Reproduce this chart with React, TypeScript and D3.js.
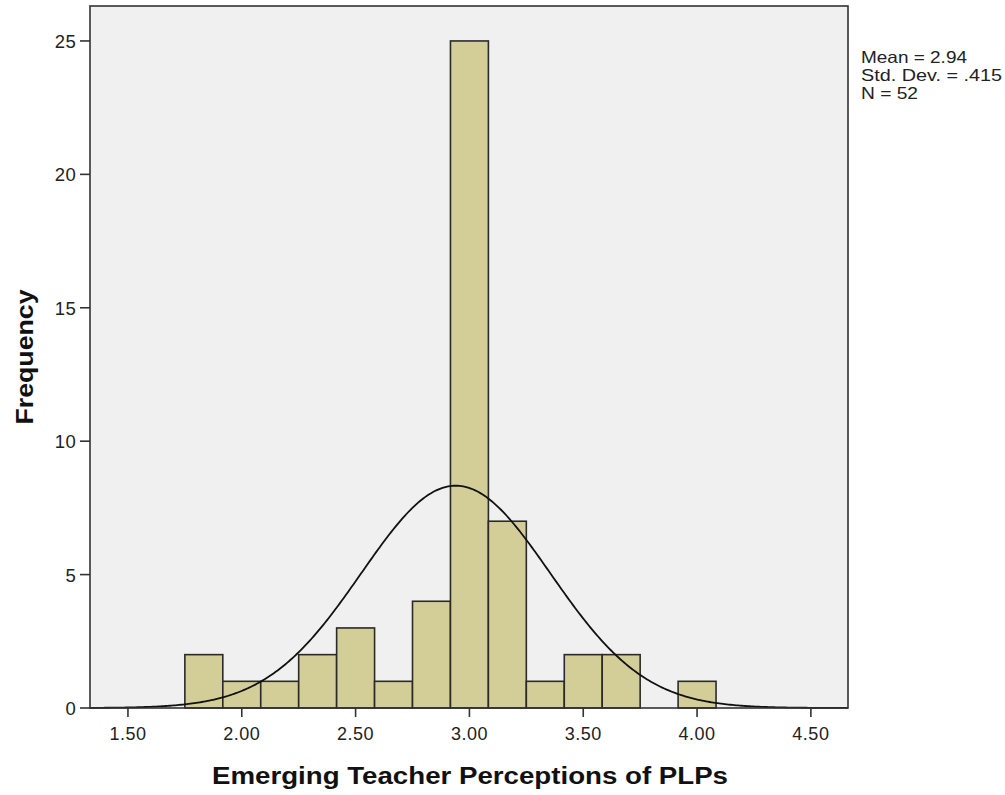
import React from "react";
import * as d3 from "d3";

const binStarts = [1.75, 1.9167, 2.0833, 2.25, 2.4167, 2.5833, 2.75, 2.9167, 3.0833, 3.25, 3.4167, 3.5833, 3.75, 3.9167];
const counts = [2, 1, 1, 2, 3, 1, 4, 25, 7, 1, 2, 2, 0, 1];
const binWidth = 1 / 6;
const xTicks = [1.5, 2.0, 2.5, 3.0, 3.5, 4.0, 4.5];
const yTicks = [0, 5, 10, 15, 20, 25];
const mean = 2.94;
const sd = 0.415;
const n = 52;
const statsLines = ["Mean = 2.94", "Std. Dev. = .415", "N = 52"];
const statsWidths = [106, 141, 57];

const W = 1005, H = 795;
const left = 90, right = 848, top = 6, bottom = 708;

export default function App() {
  const x = d3.scaleLinear().domain([1.3333, 4.663]).range([left, right]);
  const y = d3.scaleLinear().domain([0, 26.31]).range([bottom, top]);
  const pts: [number, number][] = [];
  const [d0, d1] = x.domain();
  for (let i = 0; i <= 400; i++) {
    const v = d0 + ((d1 - d0) * i) / 400;
    const dens = Math.exp(-0.5 * ((v - mean) / sd) ** 2) / (sd * Math.sqrt(2 * Math.PI));
    pts.push([x(v), y(dens * n * binWidth)]);
  }
  const line = d3.line();
  const font = "Arial, 'Liberation Sans', sans-serif";
  return (
    <svg width={W} height={H} style={{ position: "absolute", left: 0, top: 0, background: "#fff" }}>
      <rect x={left} y={top} width={right - left} height={bottom - top} fill="#F0F0F0" />
      {counts.map((c, i) =>
        c > 0 ? (
          <rect
            key={i}
            x={x(binStarts[i])}
            y={y(c)}
            width={x(binStarts[i] + binWidth) - x(binStarts[i])}
            height={y(0) - y(c)}
            fill="#D3CE97"
            stroke="#2a2a2a"
            strokeWidth={1.6}
          />
        ) : null
      )}
      <path d={line(pts) || ""} fill="none" stroke="#111" strokeWidth={1.8} />
      <rect x={left} y={top} width={right - left} height={bottom - top} fill="none" stroke="#333" strokeWidth={1.6} />
      {yTicks.map((t) => (
        <g key={t}>
          <line x1={left - 10} x2={left} y1={y(t)} y2={y(t)} stroke="#333" strokeWidth={1.6} />
          <text x={left - 14} y={y(t) + 7} textAnchor="end" fontSize={18.5} letterSpacing={0.3} fontFamily={font} fill="#222">
            {t}
          </text>
        </g>
      ))}
      {xTicks.map((t) => (
        <g key={t}>
          <line x1={x(t)} x2={x(t)} y1={bottom} y2={bottom + 9} stroke="#333" strokeWidth={1.6} />
          <text x={x(t)} y={bottom + 32} textAnchor="middle" fontSize={18} letterSpacing={0.5} fontFamily={font} fill="#222">
            {d3.format(".2f")(t)}
          </text>
        </g>
      ))}
      <text x={470} y={784} textAnchor="middle" fontSize={23} fontWeight="bold" fontFamily={font} fill="#111" textLength={516} lengthAdjust="spacingAndGlyphs">
        Emerging Teacher Perceptions of PLPs
      </text>
      <text
        transform={`translate(33, 357) rotate(-90)`}
        textAnchor="middle"
        fontSize={23}
        fontWeight="bold"
        fontFamily={font}
        fill="#111"
        textLength={135}
        lengthAdjust="spacingAndGlyphs"
      >
        Frequency
      </text>
      {statsLines.map((s, i) => (
        <text
          key={s}
          x={861}
          y={63 + i * 18}
          fontSize={16.5}
          fontFamily={font}
          fill="#222"
          textLength={statsWidths[i]}
          lengthAdjust="spacingAndGlyphs"
        >
          {s}
        </text>
      ))}
    </svg>
  );
}
